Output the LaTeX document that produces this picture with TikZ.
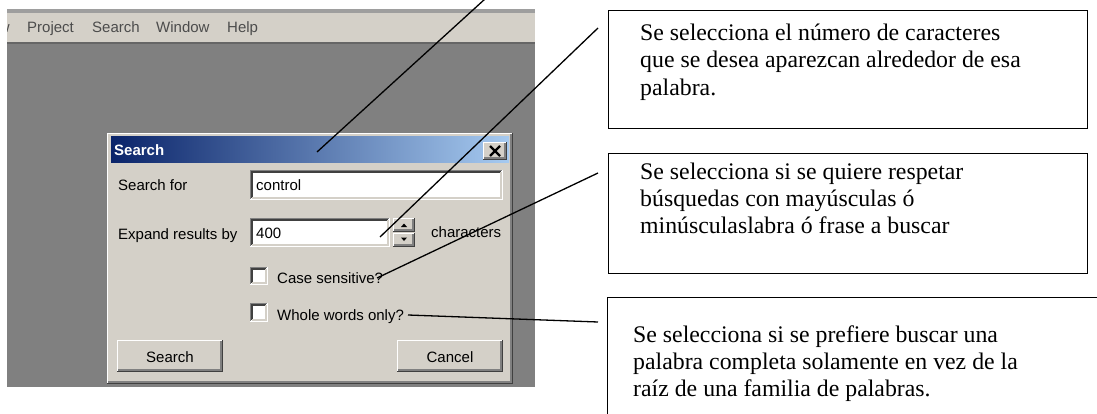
\documentclass[tikz,border=0pt]{standalone}
\usepackage{fontspec}
\setmainfont{Liberation Serif}
\newfontfamily\uif{Liberation Sans}
\definecolor{win}{HTML}{D4D0C8}
\definecolor{desk}{HTML}{808080}
\definecolor{navy}{HTML}{0A246A}
\definecolor{sky}{HTML}{A6CAF0}
\definecolor{shadow}{HTML}{404040}
\newcommand\raisedrect[4]{%
  \fill[win] (#1,#2) rectangle (#3,#4);
  \draw[white, line width=1.4pt] (#1+0.7,#4-1.4) -- (#1+0.7,#2+0.7) -- (#3-1.4,#2+0.7);
  \draw[desk, line width=1.4pt] (#1+1.4,#4-2.1) -- (#3-2.1,#4-2.1) -- (#3-2.1,#2+1.4);
  \draw[shadow, line width=1.4pt] (#1,#4-0.7) -- (#3-0.7,#4-0.7) -- (#3-0.7,#2);
}
\newcommand\sunkenrect[4]{%
  \fill[white] (#1,#2) rectangle (#3,#4);
  \draw[desk, line width=1.4pt] (#1+0.7,#4-0.7) -- (#1+0.7,#2+0.7) -- (#3-0.7,#2+0.7);
  \draw[shadow, line width=1.4pt] (#1+2.1,#4-2.1) -- (#1+2.1,#2+2.1) -- (#3-2.1,#2+2.1);
  \draw[win, line width=1.4pt] (#1+2.1,#4-2.1) -- (#3-2.1,#4-2.1) -- (#3-2.1,#2+2.1);
  \draw[white, line width=1.4pt] (#1,#4-0.7) -- (#3-0.7,#4-0.7) -- (#3-0.7,#2);
}
\tikzset{
  uitext/.style={font=\uif\fontsize{15}{18}\selectfont, inner sep=0pt, anchor=base west, text=black},
  menutext/.style={uitext, text=black!70},
  titletext/.style={font=\uif\bfseries\fontsize{15}{18}\selectfont, inner sep=0pt, anchor=base west, text=white},
  callbox/.style={draw=black, line width=1.4pt},
  calltext/.style={font=\fontsize{23.8}{27.4}\selectfont, align=left, anchor=base west, inner sep=0pt},
  leader/.style={draw=black, line width=1.3pt},
}
\begin{document}
\begin{tikzpicture}[x=1pt,y=-1pt]
\useasboundingbox (0,0) rectangle (1097,414);
\clip (0,0) rectangle (1097,414);
% screenshot background
\begin{scope}
\clip (7,9) rectangle (535,387);
\fill[desk] (7,9) rectangle (535,387);
\fill[black!38] (7,9) rectangle (535,13);
\fill[win] (7,13) rectangle (535,42);
\fill[black!60] (7,42) rectangle (535,44);
\node[menutext, anchor=base east] (mview) at (10,33) {View};
\node[menutext] (mproj) at (27,33) {Project};
\node[menutext] (msearch) at (92,33) {Search};
\node[menutext] (mwin) at (156,33) {Window};
\node[menutext] (mhelp) at (227,33) {Help};
\end{scope}
% dialog
\raisedrect{107}{133}{513}{384}
\shade[left color=navy, right color=sky] (111,137) rectangle (509,163);
\node[titletext] (dtitle) at (114,156) {Search};
\raisedrect{483}{142}{507}{160}
\draw[black, line width=2.2pt] (490,146) -- (500,156) (500,146) -- (490,156);
\node[uitext] (lsearch) at (118,191) {Search for};
\sunkenrect{250}{170}{503}{200}
\node[uitext] (vcontrol) at (256,190) {control};
\node[uitext] (lexpand) at (118,240) {Expand results by};
\sunkenrect{250}{218}{390}{247}
\node[uitext] (v400) at (256,238) {400};
\raisedrect{393}{218}{415}{232}
\raisedrect{393}{233}{415}{247}
\fill[black] (401,227) -- (407,227) -- (404,223.5) -- cycle;
\fill[black] (401,237.5) -- (407,237.5) -- (404,241) -- cycle;
\node[uitext] (lchars) at (431,237) {characters};
\sunkenrect{250}{267}{268}{285}
\node[uitext] (lcase) at (277,283) {Case sensitive?};
\sunkenrect{250}{303}{268}{322}
\node[uitext] (lwhole) at (277,320) {Whole words only?};
\raisedrect{117}{340}{223}{372}
\node[uitext, anchor=base] (bsearch) at (170,362) {Search};
\raisedrect{397}{340}{503}{372}
\node[uitext, anchor=base] (bcancel) at (450,362) {Cancel};
% callout boxes
\node[callbox, minimum width=479pt, minimum height=118pt, anchor=north west, inner sep=0pt] (box1) at (608,10) {};
\node[callbox, minimum width=479pt, minimum height=120pt, anchor=north west, inner sep=0pt] (box2) at (608,153) {};
\node[callbox, minimum width=520pt, minimum height=140pt, anchor=north west, inner sep=0pt] (box3) at (607,297) {};
\node[calltext] (t1) at (640,95.3) {Se selecciona el número de caracteres\\que se desea aparezcan alrededor de esa\\palabra.};
\node[calltext] (t2) at (640,233.8) {Se selecciona si se quiere respetar\\búsquedas con mayúsculas ó\\minúsculaslabra ó frase a buscar};
\node[calltext] (t3) at (633,396.8) {Se selecciona si se prefiere buscar una\\palabra completa solamente en vez de la\\raíz de una familia de palabras.};
% leaders
\coordinate (a1) at (317,152);
\coordinate (e1) at (485,-1);
\coordinate (a2) at (380,237);
\coordinate (e2) at (598,28);
\coordinate (a3) at (377,278);
\coordinate (e3) at (598,173);
\coordinate (a4) at (408,315);
\coordinate (e4) at (598,322);
\draw[leader] (a1) -- (e1);
\draw[leader] (a2) -- (e2);
\draw[leader] (a3) -- (e3);
\draw[leader] (a4) -- (e4);
\end{tikzpicture}
\end{document}
